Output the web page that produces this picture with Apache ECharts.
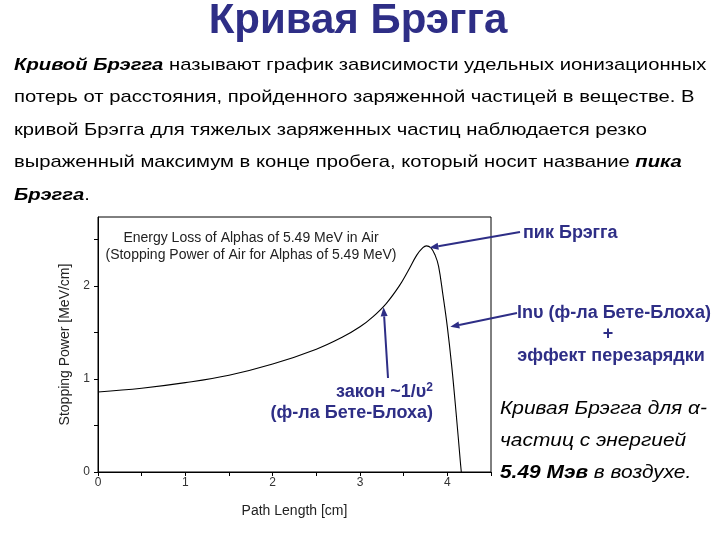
<!DOCTYPE html>
<html>
<head>
<meta charset="utf-8">
<script src="https://cdn.jsdelivr.net/npm/echarts@6/dist/echarts.min.js"></script>
<style>
html,body{margin:0;padding:0;background:#fff;}
#chart{width:720px;height:540px;}
</style>
</head>
<body>
<div id="chart"></div>
<script>
// ---- data ----
var pathLength = [0, 0.5, 1.0, 1.5, 2.0, 2.5, 2.8, 3.0, 3.15, 3.3, 3.45, 3.55, 3.65, 3.72, 3.76, 3.81, 3.86, 3.9, 3.95, 4.0, 4.05, 4.1, 4.15, 4.16];
var stoppingPower = [0.86, 0.90, 0.96, 1.04, 1.16, 1.32, 1.45, 1.56, 1.67, 1.81, 2.00, 2.16, 2.33, 2.41, 2.43, 2.41, 2.33, 2.21, 1.90, 1.56, 1.14, 0.64, 0.10, 0];
var xTickLabels = ['0', '1', '2', '3', '4'];
var yTickLabels = ['0', '1', '2'];
var peakPoint = [3.76, 2.43];
var falloffPoint = [4.0, 1.56];
var lawPoint = [3.27, 1.78];

var pageTitle = 'Кривая Брэгга';
var plotTitle1 = 'Energy Loss of Alphas of 5.49 MeV in Air';
var plotTitle2 = '(Stopping Power of Air for Alphas of 5.49 MeV)';

var NAVY = '#2e2e86';
var FONT = '"Liberation Sans", Arial, sans-serif';

var seriesData = pathLength.map(function (x, i) { return [x, stoppingPower[i]]; });

var chart = echarts.init(document.getElementById('chart'), null, {renderer: 'canvas'});

var PF = 17, PSX = 1.19;
var richP = {
  n: {fontSize: PF, fontFamily: FONT, color: '#000'},
  bi: {fontSize: PF, fontFamily: FONT, color: '#000', fontWeight: 'bold', fontStyle: 'italic'}
};
function paraLine(y, text) {
  return {
    type: 'text', x: 14, y: y, scaleX: PSX, originX: 0,
    style: {text: text, rich: richP, font: PF + 'px ' + FONT, fill: '#000', verticalAlign: 'middle'}
  };
}

var option = {
  backgroundColor: '#fff',
  animation: false,
  grid: {left: 98, right: 229, top: 217, bottom: 68, show: true, borderColor: '#000', borderWidth: 1, backgroundColor: 'transparent'},
  xAxis: {
    type: 'value', min: 0, max: 4.5, interval: 0.5,
    name: 'Path Length [cm]', nameLocation: 'middle', nameGap: 32,
    nameTextStyle: {fontFamily: FONT, fontSize: 14, color: '#222'},
    axisLine: {lineStyle: {color: '#000', width: 1}},
    axisTick: {show: true, length: 4, lineStyle: {color: '#000'}},
    axisLabel: {fontFamily: FONT, fontSize: 12, color: '#333', margin: 5,
      formatter: function (v) { var i = xTickLabels.indexOf(String(v)); return i >= 0 ? xTickLabels[i] : ''; }},
    splitLine: {show: false}
  },
  yAxis: {
    type: 'value', min: 0, max: 2.74, interval: 0.5,
    name: 'Stopping Power [MeV/cm]', nameLocation: 'middle', nameGap: 22,
    nameTextStyle: {fontFamily: FONT, fontSize: 14, color: '#222'},
    axisLine: {show: true, lineStyle: {color: '#000', width: 1}},
    axisTick: {show: true, length: 4, lineStyle: {color: '#000'}},
    axisLabel: {fontFamily: FONT, fontSize: 12, color: '#333', margin: 8, showMaxLabel: false,
      formatter: function (v) { var i = yTickLabels.indexOf(String(v)); return i >= 0 ? yTickLabels[i] : ''; }},
    splitLine: {show: false}
  },
  series: [{
    type: 'line', data: seriesData, smooth: 0.4,
    showSymbol: false, symbol: 'none',
    lineStyle: {color: '#000', width: 1.1}
  }],
  graphic: []
};
chart.setOption(option);

function arrow(from, to, color) {
  var dx = to[0] - from[0], dy = to[1] - from[1];
  var len = Math.sqrt(dx * dx + dy * dy);
  var ux = dx / len, uy = dy / len;
  var hl = 9, hw = 3.5;
  var bx = to[0] - ux * hl, by = to[1] - uy * hl;
  return [
    {type: 'line', shape: {x1: from[0], y1: from[1], x2: bx, y2: by}, style: {stroke: color, lineWidth: 2}, z: 50},
    {type: 'polygon', shape: {points: [[to[0], to[1]], [bx - uy * hw, by + ux * hw], [bx + uy * hw, by - ux * hw]]}, style: {fill: color}, z: 50}
  ];
}

var pPeak = chart.convertToPixel({gridIndex: 0}, peakPoint);
var pFall = chart.convertToPixel({gridIndex: 0}, falloffPoint);
var pLaw = chart.convertToPixel({gridIndex: 0}, lawPoint);

var g = [];
// page title
g.push({type: 'text', x: 358, y: 21, style: {text: pageTitle, font: 'bold 42px ' + FONT, fill: NAVY, textAlign: 'center', verticalAlign: 'middle'}});
// paragraph
g.push(paraLine(65, '{bi|Кривой Брэгга} {n|называют график зависимости удельных ионизационных}'));
g.push(paraLine(97.5, '{n|потерь от расстояния, пройденного заряженной частицей в веществе. В}'));
g.push(paraLine(130, '{n|кривой Брэгга для тяжелых заряженных частиц наблюдается резко}'));
g.push(paraLine(162.5, '{n|выраженный максимум в конце пробега, который носит название }{bi|пика}'));
g.push(paraLine(195, '{bi|Брэгга}{n|.}'));
// plot inner title
g.push({type: 'text', x: 251, y: 238.5, style: {text: plotTitle1, font: '14px ' + FONT, fill: '#222', textAlign: 'center', verticalAlign: 'middle'}});
g.push({type: 'text', x: 251, y: 255.5, style: {text: plotTitle2, font: '14px ' + FONT, fill: '#222', textAlign: 'center', verticalAlign: 'middle'}});
// annotations
var AF = 'bold 18px ' + FONT;
g.push({type: 'text', x: 523, y: 233, style: {text: 'пик Брэгга', font: AF, fill: NAVY, verticalAlign: 'middle'}});
g.push({type: 'text', x: 517, y: 313, style: {text: 'lnυ (ф-ла Бете-Блоха)', font: AF, fill: NAVY, verticalAlign: 'middle'}});
g.push({type: 'text', x: 608, y: 334, style: {text: '+', font: AF, fill: NAVY, textAlign: 'center', verticalAlign: 'middle'}});
g.push({type: 'text', x: 611, y: 356, style: {text: 'эффект перезарядки', font: AF, fill: NAVY, textAlign: 'center', verticalAlign: 'middle'}});
g.push({type: 'text', x: 433, y: 392, style: {text: 'закон ~1/υ{s|2}', font: AF, fill: NAVY, textAlign: 'right', verticalAlign: 'middle',
  rich: {s: {fontSize: 12, fontWeight: 'bold', fontFamily: FONT, color: NAVY, verticalAlign: 'top', padding: [0, 0, 9, 0]}}}});
g.push({type: 'text', x: 433, y: 413, style: {text: '(ф-ла Бете-Блоха)', font: AF, fill: NAVY, textAlign: 'right', verticalAlign: 'middle'}});
// italic caption
var CF = 19, CSX = 1.1;
var richC = {
  i: {fontSize: CF, fontFamily: FONT, fontStyle: 'italic', color: '#000'},
  bi: {fontSize: CF, fontFamily: FONT, fontStyle: 'italic', fontWeight: 'bold', color: '#000'}
};
function capLine(y, text) {
  return {type: 'text', x: 500, y: y, scaleX: CSX, originX: 0, style: {text: text, rich: richC, font: 'italic ' + CF + 'px ' + FONT, verticalAlign: 'middle'}};
}
g.push(capLine(409, '{i|Кривая Брэгга для α-}'));
g.push(capLine(441, '{i|частиц с энергией}'));
g.push(capLine(473, '{bi|5.49 Мэв}{i| в воздухе.}'));
// arrows
g = g.concat(arrow([520, 232], [pPeak[0] + 3, pPeak[1] + 2], NAVY));
g = g.concat(arrow([517, 313], [pFall[0] + 3, pFall[1]], NAVY));
g = g.concat(arrow([388, 378], [pLaw[0], pLaw[1] + 1], NAVY));

chart.setOption({graphic: g});
</script>
</body>
</html>
